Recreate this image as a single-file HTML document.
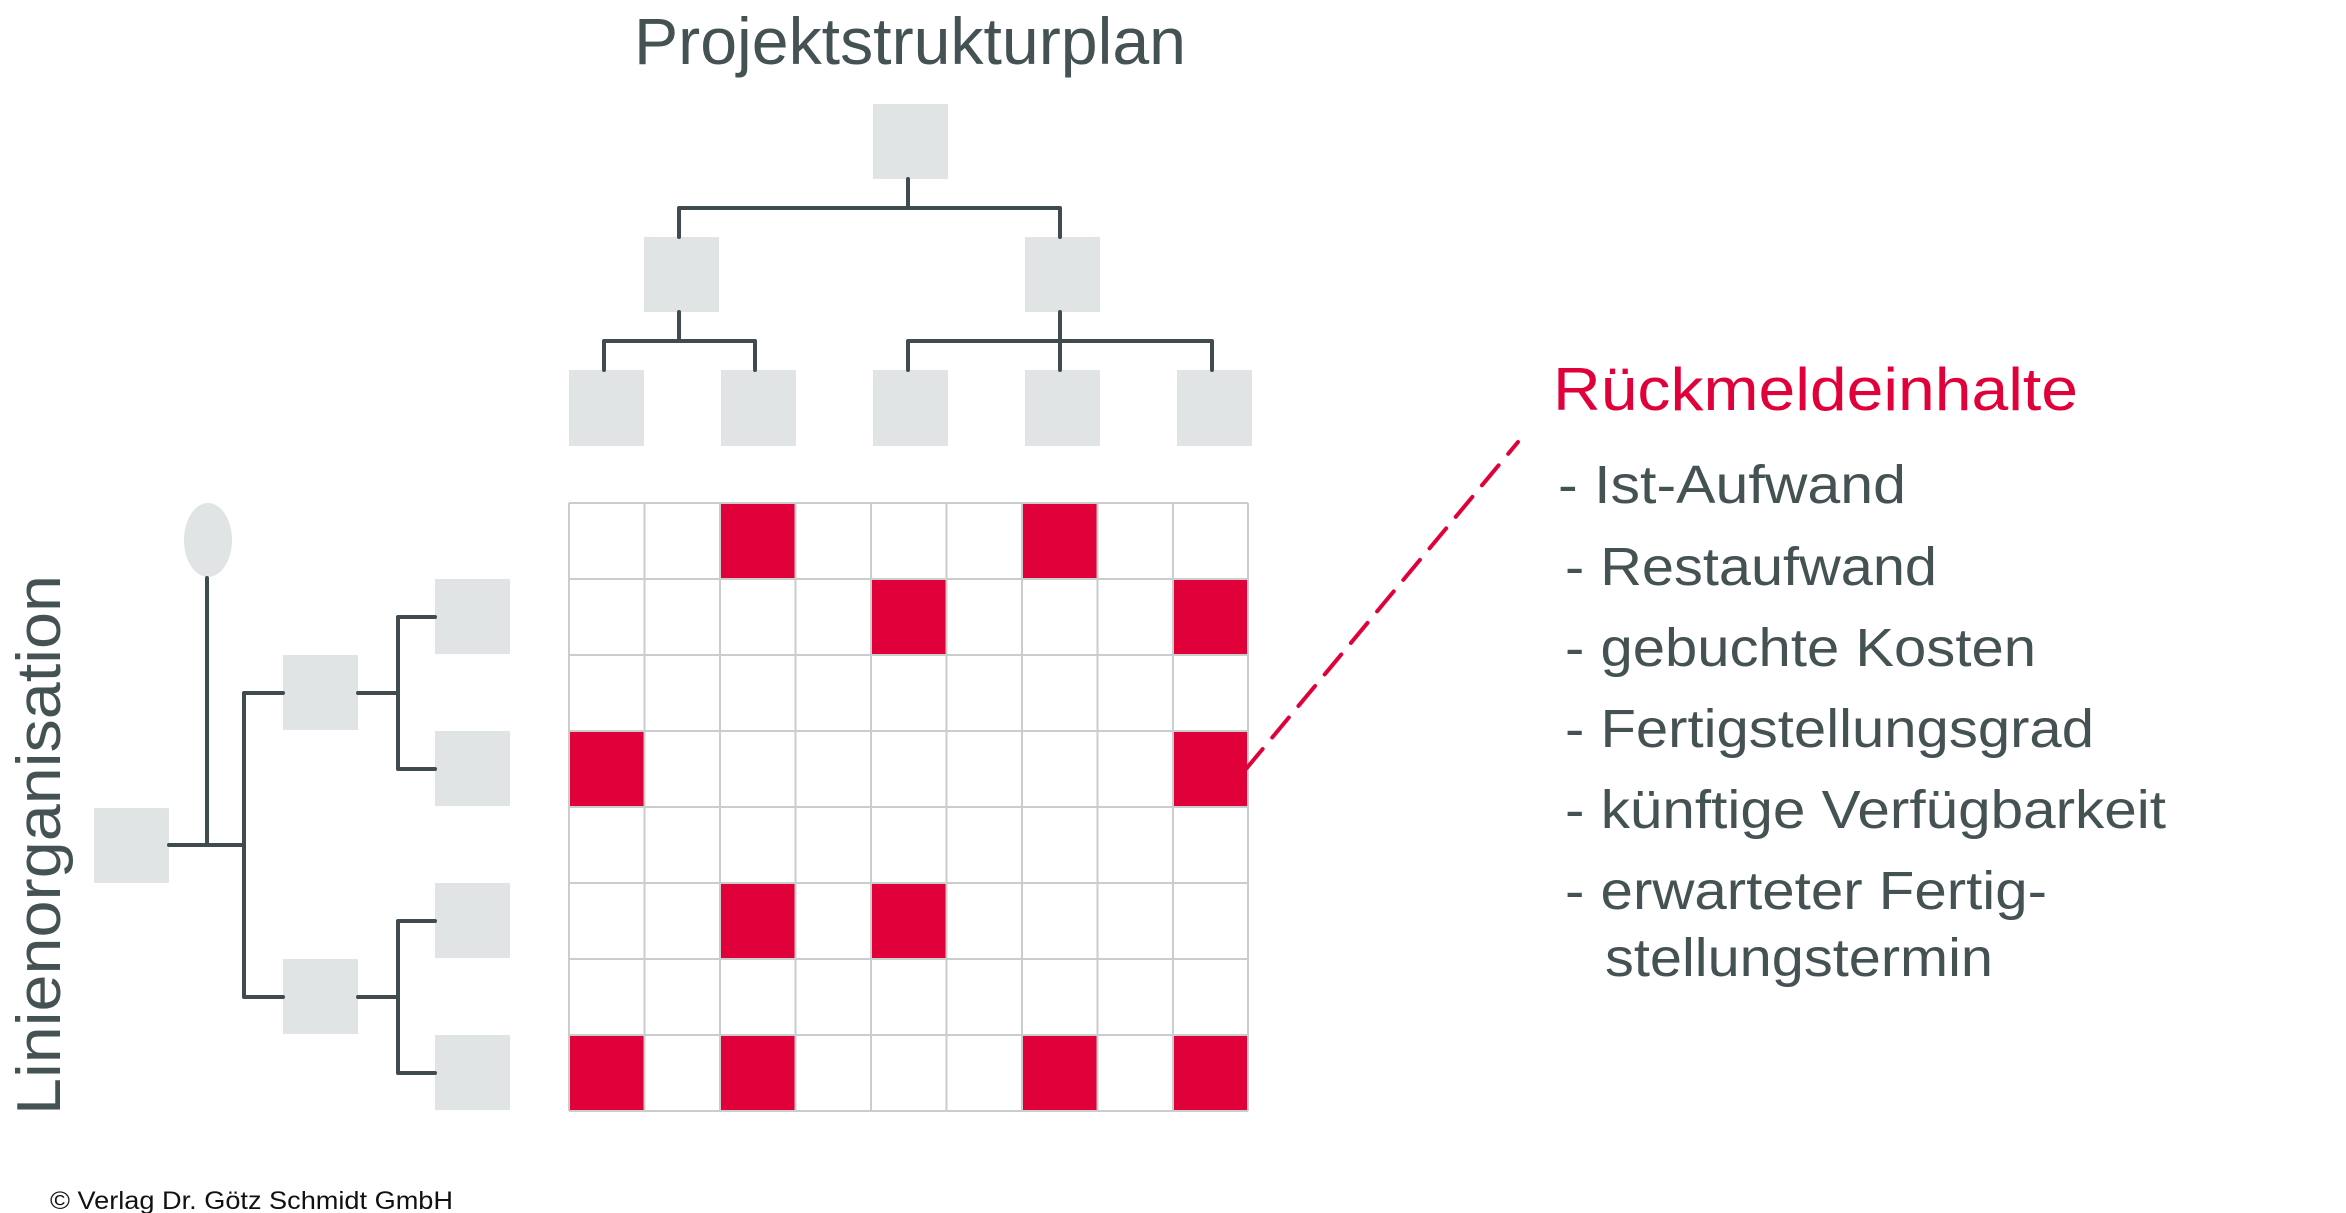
<!DOCTYPE html>
<html><head><meta charset="utf-8"><style>
html,body{margin:0;padding:0;background:#fff;}
svg{display:block;}
text{font-family:"Liberation Sans",Arial,sans-serif;}
</style></head><body>
<svg width="2346" height="1213" viewBox="0 0 2346 1213" xmlns="http://www.w3.org/2000/svg">
<rect width="2346" height="1213" fill="#fff"/>
<text x="634" y="64" font-size="66" fill="#455254" textLength="552" lengthAdjust="spacingAndGlyphs">Projektstrukturplan</text>
<g transform="translate(-4,-4)">
<g fill="#e1e4e5">
<rect x="877" y="108" width="75" height="75"/>
<rect x="648" y="241" width="75" height="75"/>
<rect x="1029" y="241" width="75" height="75"/>
<rect x="573" y="374" width="75" height="76"/>
<rect x="725" y="374" width="75" height="76"/>
<rect x="877" y="374" width="75" height="76"/>
<rect x="1029" y="374" width="75" height="76"/>
<rect x="1181" y="374" width="75" height="76"/>
<ellipse cx="212" cy="544" rx="24" ry="37"/>
<rect x="98" y="812" width="75" height="75"/>
<rect x="287" y="659" width="75" height="75"/>
<rect x="287" y="963" width="75" height="75"/>
<rect x="439" y="583" width="75" height="75"/>
<rect x="439" y="735" width="75" height="75"/>
<rect x="439" y="887" width="75" height="75"/>
<rect x="439" y="1039" width="75" height="75"/>
</g>
<g stroke="#3f4b4e" stroke-width="4" fill="none" stroke-linecap="round" stroke-linejoin="round">
<path d="M912 183V212M683 241V212H1064V241"/>
<path d="M683 316V345M608 374V345H759V374"/>
<path d="M1064 316V374M912 374V345H1216V374"/>
<path d="M211 582V849M173 849H248M248 697V1001M248 697H287M248 1001H287"/>
<path d="M362 697H402M402 621V773M402 621H439M402 773H439"/>
<path d="M362 1001H402M402 925V1077M402 925H439M402 1077H439"/>
</g>
<g fill="#e0003a">
<rect x="724" y="507" width="76" height="76"/>
<rect x="1025" y="507" width="76" height="76"/>
<rect x="875" y="583" width="76" height="76"/>
<rect x="1176" y="583" width="76" height="76"/>
<rect x="573" y="735" width="76" height="76"/>
<rect x="1176" y="735" width="76" height="76"/>
<rect x="724" y="887" width="76" height="76"/>
<rect x="875" y="887" width="76" height="76"/>
<rect x="573" y="1039" width="76" height="76"/>
<rect x="724" y="1039" width="76" height="76"/>
<rect x="1025" y="1039" width="76" height="76"/>
<rect x="1176" y="1039" width="76" height="76"/>
</g>
<g stroke="#c9cdcd" stroke-width="2" fill="none">
<path d="M573 507H1252M573 583H1252M573 659H1252M573 735H1252M573 811H1252M573 887H1252M573 963H1252M573 1039H1252M573 1115H1252"/>
<path d="M573 507V1115M648.5 507V1115M724 507V1115M799.5 507V1115M875 507V1115M950.5 507V1115M1026 507V1115M1101.5 507V1115M1177 507V1115M1252 507V1115"/>
</g>
<line x1="1250" y1="773" x2="1522" y2="446" stroke="#e0003a" stroke-width="4" stroke-dasharray="26 15" stroke-linecap="round"/>
</g>
<text transform="translate(60,1115) rotate(-90)" font-size="62" fill="#455254" textLength="540" lengthAdjust="spacingAndGlyphs">Linienorganisation</text>
<text x="1553" y="410" font-size="60" fill="#e0003a" textLength="525" lengthAdjust="spacingAndGlyphs">Rückmeldeinhalte</text>
<g font-size="54" fill="#455254">
<text x="1558" y="503" textLength="348" lengthAdjust="spacingAndGlyphs">- Ist-Aufwand</text>
<text x="1565" y="585" textLength="372" lengthAdjust="spacingAndGlyphs">- Restaufwand</text>
<text x="1565" y="666" textLength="471" lengthAdjust="spacingAndGlyphs">- gebuchte Kosten</text>
<text x="1565" y="747" textLength="529" lengthAdjust="spacingAndGlyphs">- Fertigstellungsgrad</text>
<text x="1565" y="828" textLength="601" lengthAdjust="spacingAndGlyphs">- künftige Verfügbarkeit</text>
<text x="1565" y="909" textLength="482" lengthAdjust="spacingAndGlyphs">- erwarteter Fertig-</text>
<text x="1605" y="976" textLength="388" lengthAdjust="spacingAndGlyphs">stellungstermin</text>
</g>
<text x="50" y="1209" font-size="25" fill="#111" textLength="403" lengthAdjust="spacingAndGlyphs">© Verlag Dr. Götz Schmidt GmbH</text>
</svg>
</body></html>
